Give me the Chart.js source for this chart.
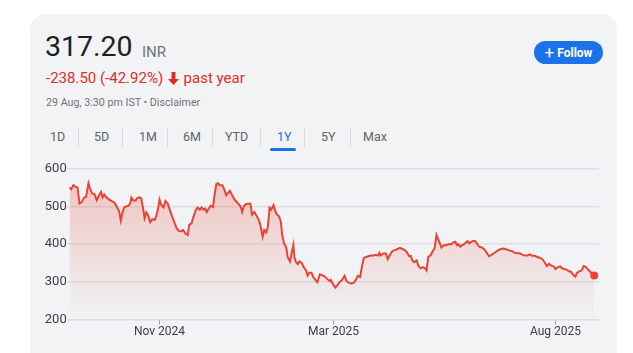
<!DOCTYPE html>
<html>
<head>
<meta charset="utf-8">
<script src="https://cdn.jsdelivr.net/npm/chart.js@4.4.1/dist/chart.umd.min.js"></script>
<style>
  body { margin: 0; background: #fff; font-family: Roboto, Arial, sans-serif; }
  .card { position: absolute; left: 30px; top: 14px; width: 587px; height: 360px; background: #f1f3f4; border-radius: 16px; }
  .abs { position: absolute; white-space: nowrap; }
  .price { left: 45px; top: 30px; font-size: 28.5px; color: #202124; }
  .cur { left: 142px; top: 43px; font-size: 15px; color: #70757a; }
  .chg { left: 46px; top: 69px; font-size: 15px; color: #d93025; }
  .chg svg { vertical-align: -2px; margin: 0 1px 0 1px; }
  .meta { left: 46px; top: 96px; font-size: 10.7px; color: #70757a; }
  .tab { top: 129px; font-size: 12.5px; color: #5f6368; }
  .sep { top: 128px; width: 1px; height: 19px; background: #dadce0; }
  .under { left: 270px; top: 148px; width: 26px; height: 3px; background: #1a73e8; border-radius: 2px; }
  .follow { left: 534px; top: 41px; width: 69px; height: 23px; background: #1a73e8; border-radius: 12px; color: #fff; font-size: 12px; font-weight: bold; line-height: 23px; text-align: center; }
  .follow span { font-size: 17px; font-weight: normal; vertical-align: -1px; margin-right: 3px; }
  #wrap { position: absolute; left: 40px; top: 160px; width: 563px; height: 187px; }
</style>
</head>
<body>
<div class="card"></div>
<div class="abs price">317.20</div>
<div class="abs cur">INR</div>
<div class="abs chg">-238.50 (-42.92%) <svg width="11" height="13" viewBox="0 0 11 13"><path d="M3.5 0h4v7h3.5L5.5 13 0 7h3.5z" fill="#d93025"/></svg> past year</div>
<div class="abs meta">29 Aug, 3:30 pm IST • Disclaimer</div>

<div class="abs tab" style="left:50px">1D</div>
<div class="abs sep" style="left:78px"></div>
<div class="abs tab" style="left:94px">5D</div>
<div class="abs sep" style="left:122px"></div>
<div class="abs tab" style="left:139px">1M</div>
<div class="abs sep" style="left:167px"></div>
<div class="abs tab" style="left:183px">6M</div>
<div class="abs sep" style="left:212px"></div>
<div class="abs tab" style="left:225px">YTD</div>
<div class="abs sep" style="left:260px"></div>
<div class="abs tab" style="left:277px;color:#1a73e8">1Y</div>
<div class="abs sep" style="left:304px"></div>
<div class="abs tab" style="left:321px">5Y</div>
<div class="abs sep" style="left:350px"></div>
<div class="abs tab" style="left:363px">Max</div>
<div class="abs under"></div>

<div class="abs follow"><span>+</span>Follow</div>

<div id="wrap"><canvas id="priceChart"></canvas></div>

<script>
// days since 29 Aug 2024
const days = [
  2.0,3.1,4.7,5.9,7.5,8.8,10.4,12.0,13.4,15.0,16.1,17.5,19.1,20.7,22.3,23.7,24.8,25.9,27.5,29.1,
  31.0,32.5,33.7,34.8,36.2,37.3,38.5,39.6,41.2,42.8,43.9,44.6,45.8,47.4,48.5,50.3,51.5,52.6,53.7,54.9,
  56.0,57.6,59.0,60.6,61.7,63.1,64.0,65.1,66.7,68.1,69.7,70.8,72.7,74.3,75.8,77.2,78.8,80.4,81.8,83.4,
  84.5,86.1,87.2,
  89.1,90.2,91.8,92.9,94.3,95.4,96.6,97.7,99.3,100.9,102.1,103.2,104.3,105.7,107.3,108.4,110.0,111.4,112.5,114.1,
  115.7,117.1,118.7,119.8,121.0,122.1,123.7,125.1,126.7,127.8,129.4,130.8,132.4,133.5,135.1,136.2,137.6,138.7,139.9,141.0,
  142.6,143.8,144.9,146.5,147.6,148.6,149.9,151.3,152.4,154.0,155.2,156.3,157.0,158.1,159.3,160.4,162.0,163.6,165.0,166.1,
  167.2,168.8,170.0,171.8,172.9,174.5,176.4,178.0,179.5,181.4,
  182.1,183.6,185.2,186.6,188.2,189.8,191.6,192.8,194.4,196.2,198.0,199.6,200.7,202.3,203.7,204.8,206.4,208.0,209.9,211.5,
  213.3,214.9,215.6,216.7,218.3,220.1,221.3,222.9,224.7,226.5,228.1,229.7,231.5,233.1,234.5,236.1,237.2,238.3,239.5,241.3,
  242.4,244.0,245.6,247.0,248.1,249.3,250.9,252.0,253.6,255.0,256.1,257.3,258.4,260.0,261.8,263.4,265.0,266.4,268.0,269.1,
  270.2,271.4,272.5,
  273.7,275.3,276.4,277.5,278.9,280.5,281.6,282.8,284.4,286.2,288.0,289.6,291.2,292.6,294.2,295.8,297.6,299.4,301.0,302.6,
  304.4,306.7,308.5,310.1,312.4,314.0,315.8,317.7,319.3,320.9,322.7,324.5,326.1,327.9,329.5,331.1,332.5,334.1,335.7,337.0,
  338.6,340.2,341.6,343.2,344.8,346.2,347.7,349.3,350.7,351.8,353.4,355.0,356.4,358.0,359.6,361.0,362.1,363.7
];

const prices = [
  550,545,556,552,550,507,511,523,525,561,547,534,533,516,529,538,524,531,523,518,
  514,511,505,497,487,462,484,497,500,502,509,523,516,515,521,524,520,496,469,484,
  478,458,466,464,473,496,518,505,497,514,507,494,473,457,442,435,434,437,428,424,
  451,455,470,
  491,497,491,497,491,494,485,493,502,498,534,559,561,556,556,547,529,536,541,529,
  518,512,505,500,485,500,506,507,507,478,485,476,464,451,419,437,431,446,496,491,
  503,488,478,473,460,424,401,392,365,354,379,398,365,352,347,354,350,338,331,317,
  324,324,313,304,299,320,317,314,308,302,
  305,294,285,291,300,305,316,303,298,296,298,307,316,313,343,363,366,368,370,370,
  372,370,377,370,375,375,360,372,382,384,387,390,387,384,379,368,369,357,352,357,
  343,336,339,336,330,366,370,379,388,424,413,402,391,397,397,400,399,404,406,397,
  400,393,397,
  399,405,408,402,406,409,408,402,393,391,386,377,368,371,375,379,384,387,388,387,
  384,382,378,376,376,372,370,370,373,369,369,366,364,360,352,342,348,343,341,334,
  339,341,336,334,332,328,327,318,314,324,328,330,342,339,332,327,321,317.2
];

const tickDays = [64, 184, 337];
const tickLabels = ['Nov 2024', 'Mar 2025', 'Aug 2025'];
const yTicks = [200, 300, 400, 500, 600];

const red = '#ea4335';
const last = prices.length - 1;

const chart = new Chart(document.getElementById('priceChart'), {
    type: 'line',
    data: {
        datasets: [{
            data: days.map((d, i) => ({ x: d, y: prices[i] })),
            borderColor: red,
            borderWidth: 2,
            tension: 0,
            fill: 'origin',
            backgroundColor: (ctx) => {
                const area = ctx.chart.chartArea;
                if (!area) return 'rgba(234,67,53,0.2)';
                const g = ctx.chart.ctx.createLinearGradient(0, area.top, 0, area.bottom);
                g.addColorStop(0, 'rgba(234,67,53,0.28)');
                g.addColorStop(1, 'rgba(234,67,53,0)');
                return g;
            },
            pointRadius: (ctx) => ctx.dataIndex === last ? 4 : 0,
            pointBackgroundColor: red,
            pointBorderWidth: 0,
            pointHoverRadius: 0
        }]
    },
    options: {
        responsive: true,
        maintainAspectRatio: false,
        animation: false,
        layout: { padding: { top: 8.5, right: 0, left: 0, bottom: 0 } },
        plugins: { legend: { display: false }, tooltip: { enabled: false } },
        scales: {
            x: {
                type: 'linear',
                min: 0,
                max: 367,
                afterBuildTicks: (axis) => { axis.ticks = tickDays.map(v => ({ value: v })); },
                afterFit: (axis) => { axis.height = 27.3; },
                ticks: {
                    autoSkip: false,
                    maxRotation: 0,
                    padding: 0,
                    color: '#3c4043',
                    font: { family: 'Roboto, Arial, sans-serif', size: 12 },
                    callback: (v) => tickLabels[tickDays.indexOf(v)]
                },
                grid: { drawOnChartArea: false, drawTicks: true, tickLength: 5, color: '#9aa0a6' },
                border: { display: false }
            },
            y: {
                min: 200,
                max: 600,
                afterBuildTicks: (axis) => { axis.ticks = yTicks.map(v => ({ value: v })); },
                afterFit: (axis) => { axis.width = 26.7; },
                ticks: {
                    padding: 0,
                    color: '#3c4043',
                    font: { family: 'Roboto, Arial, sans-serif', size: 13 }
                },
                grid: { color: '#dcdee1', lineWidth: 1.5, drawTicks: false },
                border: { display: false }
            }
        }
    }
});
</script>
</body>
</html>
